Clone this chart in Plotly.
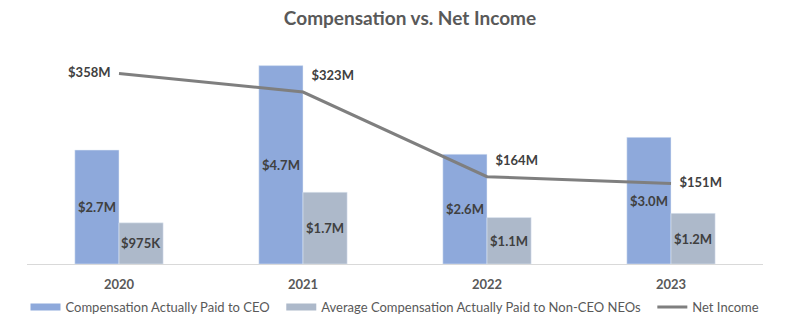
import plotly.graph_objects as go

years = ["2020", "2021", "2022", "2023"]
ceo_pay = [2.7, 4.7, 2.6, 3.0]          # $M
neo_pay = [0.975, 1.7, 1.1, 1.2]        # $M
net_income = [358, 323, 164, 151]       # $M

ceo_labels = ["$2.7M", "$4.7M", "$2.6M", "$3.0M"]
neo_labels = ["$975K", "$1.7M", "$1.1M", "$1.2M"]
ni_labels = ["$358M", "$323M", "$164M", "$151M"]
ni_label_pos = ["middle left", "top right", "top right", "middle right"]

FONT = "Lato"
LABEL = "#404040"
MUTED = "#595959"
CEO_COLOR = "#8EA9DB"
NEO_COLOR = "#ADB9CA"
NI_COLOR = "#7F7F7F"

CEO_NAME = "Compensation Actually Paid to CEO"
NEO_NAME = "Average Compensation Actually Paid to Non-CEO NEOs"
PAD = "\u00a0\u00a0"  # extra room between legend entries

fig = go.Figure()

fig.add_trace(go.Bar(
    x=years, y=ceo_pay, name=CEO_NAME, showlegend=False,
    marker_color=CEO_COLOR, text=ceo_labels, textposition="inside",
    insidetextanchor="middle", constraintext="none",
    textfont=dict(family=FONT, size=13, color=LABEL, weight="bold"),
    hoverinfo="skip",
))
fig.add_trace(go.Bar(
    x=years, y=neo_pay, name=NEO_NAME, showlegend=False,
    marker_color=NEO_COLOR, text=neo_labels, textposition="inside",
    insidetextanchor="middle", constraintext="none",
    textfont=dict(family=FONT, size=13, color=LABEL, weight="bold"),
    hoverinfo="skip",
))

# legend-only entries so the bar keys are drawn as wide flat swatches
for name, color in [(CEO_NAME, CEO_COLOR), (NEO_NAME, NEO_COLOR)]:
    fig.add_trace(go.Scatter(
        x=[None], y=[None], name=name + PAD, mode="lines",
        line=dict(color=color, width=7), hoverinfo="skip",
    ))

# invisible markers give the value labels some clearance from the line
fig.add_trace(go.Scatter(
    x=years, y=net_income, name="Net Income", yaxis="y2",
    mode="lines+markers+text", line=dict(color=NI_COLOR, width=3),
    marker=dict(size=12, color="rgba(0,0,0,0)"),
    text=ni_labels, textposition=ni_label_pos,
    textfont=dict(family=FONT, size=13, color=LABEL, weight="bold"),
    hoverinfo="skip",
))

fig.update_layout(
    width=786, height=326,
    margin=dict(l=27, r=23, t=50, b=62, autoexpand=False),
    paper_bgcolor="white", plot_bgcolor="white",
    barmode="group", bargap=0.52, bargroupgap=0,
    font=dict(family=FONT, color=MUTED),
    title=dict(text="<b>Compensation vs. Net Income</b>", x=410 / 786, xanchor="center",
               y=1 - 18 / 326, yanchor="middle", yref="container",
               font=dict(family=FONT, size=19, color=MUTED)),
    xaxis=dict(type="category", showline=True, linecolor="#D9D9D9", linewidth=1,
               ticks="", showgrid=False, automargin=False, ticklabelstandoff=8,
               tickfont=dict(family=FONT, size=13, color=MUTED, weight="bold")),
    yaxis=dict(range=[0, 5.07], visible=False, showgrid=False),
    yaxis2=dict(range=[0, 402], overlaying="y", visible=False, showgrid=False),
    legend=dict(orientation="h", x=0.5, xanchor="center",
                y=1 - 307 / 326, yanchor="middle", yref="container",
                font=dict(family=FONT, size=13, color=MUTED),
                itemwidth=30, traceorder="normal"),
    showlegend=True,
)

fig.write_html("out.html")
